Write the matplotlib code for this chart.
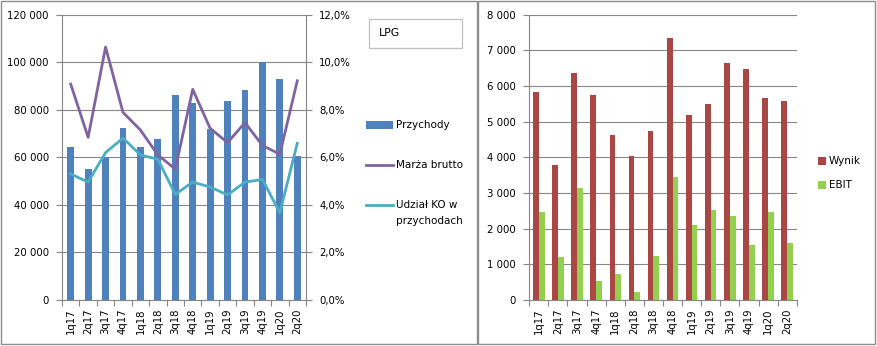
import matplotlib
matplotlib.use("Agg")
import matplotlib.pyplot as plt
from matplotlib.patches import Rectangle
from matplotlib.lines import Line2D
from matplotlib.ticker import FuncFormatter, MultipleLocator, FixedLocator
import numpy as np

plt.rcParams['font.family'] = ['DejaVu Sans']

quarters = ["1q17", "2q17", "3q17", "4q17", "1q18", "2q18", "3q18",
            "4q18", "1q19", "2q19", "3q19", "4q19", "1q20", "2q20"]

# LPG segment: revenue (bars), gross margin and cost share (lines, %)
przychody = [64500, 55000, 60000, 72400, 64500, 67900, 86300,
             82900, 72000, 83800, 88500, 100000, 93000, 60700]
marza_brutto = [9.08, 6.84, 10.64, 7.89, 7.15, 6.10, 5.51,
                8.86, 7.22, 6.62, 7.46, 6.50, 6.13, 9.22]
udzial_ko = [5.30, 4.96, 6.20, 6.81, 6.10, 5.92, 4.44,
             4.96, 4.75, 4.42, 4.96, 5.07, 3.67, 6.59]

# Result and EBIT
wynik = [5840, 3790, 6370, 5750, 4630, 4050, 4740,
         7350, 5190, 5500, 6650, 6480, 5665, 5590]
ebit = [2470, 1210, 3140, 540, 730, 230, 1240,
        3450, 2110, 2530, 2360, 1550, 2470, 1600]

W, H = 877, 346
fig = plt.figure(figsize=(W / 100, H / 100), dpi=100)

FS = 7.3
GRID = "#868686"
C_BAR = "#4F81BD"
C_MARZA = "#8064A2"
C_KO = "#4BACC6"
C_WYNIK = "#AA4643"
C_EBIT = "#92D050"


def fx(px):
    return px / W


def fy(py):
    return 1 - py / H


def space_thousands(v, pos):
    return f"{int(round(v)):,}".replace(",", " ")


def style_axis(ax, cats):
    n = len(cats)
    ax.set_xlim(-0.5, n - 0.5)
    ax.xaxis.set_major_locator(FixedLocator(np.arange(-0.5, n, 1.0)))
    ax.xaxis.set_minor_locator(FixedLocator(np.arange(n)))
    ax.set_xticklabels([], minor=False)
    ax.set_xticks(np.arange(n), cats, minor=True, rotation=90, fontsize=FS)
    ax.tick_params(axis="x", which="major", length=4, color=GRID, width=0.8)
    ax.tick_params(axis="x", which="minor", length=0, pad=6)
    ax.tick_params(axis="y", length=4, color=GRID, width=0.8, pad=5.5,
                   labelsize=FS)
    ax.grid(axis="y", color=GRID, linewidth=0.8)
    ax.set_axisbelow(True)
    for s in ("top", "right"):
        ax.spines[s].set_visible(False)
    for s in ("left", "bottom"):
        ax.spines[s].set_color(GRID)
        ax.spines[s].set_linewidth(0.8)
    for lab in ax.get_xticklabels(minor=True):
        lab.set_va("top")


x = np.arange(len(quarters))

# ---- left chart: LPG ----
ax1 = fig.add_axes([fx(62), fy(300), fx(306 - 62), (300 - 14.7) / H])
ax1.bar(x, przychody, width=0.4, color=C_BAR, zorder=2)
ax1.set_ylim(0, 120000)
ax1.yaxis.set_major_locator(MultipleLocator(20000))
ax1.yaxis.set_major_formatter(FuncFormatter(space_thousands))
style_axis(ax1, quarters)

ax1b = ax1.twinx()
ax1b.plot(x, np.array(marza_brutto) / 100, color=C_MARZA, lw=2.0,
          solid_joinstyle="round", zorder=3)
ax1b.plot(x, np.array(udzial_ko) / 100, color=C_KO, lw=2.0,
          solid_joinstyle="round", zorder=3)
ax1b.set_ylim(0, 0.12)
ax1b.yaxis.set_major_locator(MultipleLocator(0.02))
ax1b.yaxis.set_major_formatter(
    FuncFormatter(lambda v, p: f"{v * 100:.1f}%".replace(".", ",")))
ax1b.tick_params(axis="y", length=4, color=GRID, width=0.8, pad=5.5,
                 labelsize=FS)
for s in ("top", "left", "bottom"):
    ax1b.spines[s].set_visible(False)
ax1b.spines["right"].set_color(GRID)
ax1b.spines["right"].set_linewidth(0.8)

# ---- right chart: Wynik / EBIT ----
ax2 = fig.add_axes([fx(529.3), fy(300), fx(796.7 - 529.3), (300 - 14.7) / H])
ax2.bar(x - 0.15, wynik, width=0.3, color=C_WYNIK, zorder=2)
ax2.bar(x + 0.15, ebit, width=0.3, color=C_EBIT, zorder=2)
ax2.set_ylim(0, 8000)
ax2.yaxis.set_major_locator(MultipleLocator(1000))
ax2.yaxis.set_major_formatter(FuncFormatter(space_thousands))
style_axis(ax2, quarters)

# ---- panel frames ----
fig.add_artist(Rectangle((fx(0.5), fy(344)), fx(477 - 0.5), (344 - 0.5) / H,
                         transform=fig.transFigure, fill=False,
                         edgecolor="#8C8C8C", lw=1.0))
fig.add_artist(Rectangle((fx(478), fy(344)), fx(875 - 478), (344 - 0.5) / H,
                         transform=fig.transFigure, fill=False,
                         edgecolor="#8C8C8C", lw=1.0))

# ---- title box ----
fig.add_artist(Rectangle((fx(369), fy(48.3)), fx(462 - 369), (48.3 - 18.7) / H,
                         transform=fig.transFigure, fill=False,
                         edgecolor="#BFBFBF", lw=0.9))
fig.text(fx(379), fy(33.5), "LPG", fontsize=7.8, va="center", ha="left")

# ---- left legend ----
LFS = 7.5
fig.add_artist(Rectangle((fx(366), fy(129)), fx(27), 8 / H,
                         transform=fig.transFigure, color=C_BAR, lw=0))
fig.text(fx(396), fy(125), "Przychody", fontsize=LFS, va="center")
fig.add_artist(Line2D([fx(366), fx(393)], [fy(164.5), fy(164.5)],
                      transform=fig.transFigure, color=C_MARZA, lw=2.0))
fig.text(fx(396), fy(164.5), "Marża brutto", fontsize=LFS, va="center")
fig.add_artist(Line2D([fx(366), fx(393)], [fy(204.5), fy(204.5)],
                      transform=fig.transFigure, color=C_KO, lw=2.0))
fig.text(fx(396), fy(204.5), "Udział KO w", fontsize=LFS, va="center")
fig.text(fx(396), fy(221.5), "przychodach", fontsize=LFS, va="center")

# ---- right legend ----
fig.add_artist(Rectangle((fx(818), fy(165)), fx(8), 8 / H,
                         transform=fig.transFigure, color=C_WYNIK, lw=0))
fig.text(fx(829), fy(161), "Wynik", fontsize=LFS, va="center")
fig.add_artist(Rectangle((fx(818), fy(189)), fx(8), 8 / H,
                         transform=fig.transFigure, color=C_EBIT, lw=0))
fig.text(fx(829), fy(185), "EBIT", fontsize=LFS, va="center")

fig.savefig("out.png", dpi=100)
